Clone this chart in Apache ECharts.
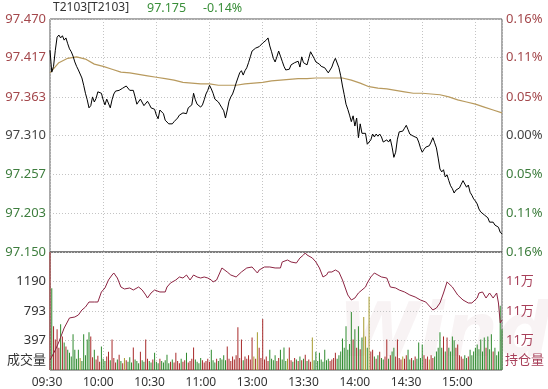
<!DOCTYPE html>
<html><head><meta charset="utf-8">
<script src="https://cdn.jsdelivr.net/npm/echarts@6/dist/echarts.min.js"></script>
<style>html,body{margin:0;padding:0;background:#fff}#c{width:548px;height:389px}</style>
</head><body><div id="c"></div>
<script>
const contractName = 'T2103[T2103]';
const preSettle = 97.310;
const timeLabels = ['09:30','10:00','10:30','11:00','13:00','13:30','14:00','14:30','15:00'];
const priceTicks = [97.150, 97.203, 97.257, 97.310, 97.363, 97.417, 97.470];
const priceTickLabels = ['97.150','97.203','97.257','97.310','97.363','97.417','97.470'];
const pctTickLabels = ['0.16%','0.11%','0.05%','0.00%','0.05%','0.11%','0.16%'];
const volTicks = [397, 793, 1190];
const volTickLabels = ['397','793','1190'];
const oiTicks = [109400, 110000, 110600];
const oiTickLabels = ['11万','11万','11万'];

const price = [
97.427,97.397,97.405,97.427,97.445,97.448,97.444,97.447,97.441,97.444,
97.436,97.429,97.425,97.419,97.411,97.405,97.400,97.400,97.389,97.379,
97.368,97.359,97.348,97.351,97.363,97.356,97.361,97.370,97.372,97.368,
97.359,97.352,97.360,97.361,97.348,97.359,97.367,97.371,97.370,97.372,
97.371,97.375,97.375,97.378,97.377,97.372,97.370,97.372,97.363,97.353,
97.351,97.360,97.359,97.351,97.352,97.357,97.353,97.348,97.349,97.346,
97.338,97.333,97.345,97.344,97.340,97.331,97.330,97.326,97.327,97.326,
97.329,97.331,97.334,97.338,97.337,97.341,97.342,97.340,97.348,97.349,
97.352,97.368,97.359,97.353,97.351,97.349,97.352,97.359,97.367,97.372,
97.379,97.374,97.368,97.360,97.361,97.356,97.352,97.348,97.344,97.334,
97.345,97.357,97.363,97.367,97.374,97.382,97.389,97.396,97.399,97.393,
97.399,97.403,97.410,97.418,97.426,97.426,97.430,97.430,97.432,97.433,
97.437,97.438,97.441,97.444,97.433,97.425,97.416,97.411,97.418,97.426,
97.419,97.412,97.405,97.400,97.400,97.401,97.407,97.405,97.410,97.408,
97.412,97.404,97.418,97.410,97.411,97.407,97.416,97.425,97.425,97.416,
97.411,97.410,97.408,97.405,97.404,97.403,97.401,97.396,97.400,97.404,
97.411,97.416,97.414,97.403,97.392,97.378,97.366,97.353,97.346,97.338,
97.329,97.337,97.323,97.334,97.307,97.326,97.313,97.313,97.313,97.298,
97.298,97.304,97.312,97.308,97.312,97.309,97.312,97.308,97.301,97.302,
97.304,97.301,97.305,97.294,97.280,97.287,97.305,97.315,97.316,97.316,
97.320,97.324,97.318,97.312,97.313,97.309,97.311,97.307,97.301,97.293,
97.287,97.291,97.294,97.296,97.296,97.301,97.307,97.300,97.293,97.279,
97.264,97.260,97.263,97.253,97.256,97.248,97.241,97.237,97.231,97.235,
97.237,97.238,97.243,97.248,97.246,97.239,97.242,97.232,97.228,97.223,
97.220,97.216,97.209,97.205,97.204,97.201,97.202,97.197,97.191,97.190,
97.191,97.187,97.186,97.184,97.177,97.175];

const avgMinutes = [0,5,10,15,20,25,30,35,40,45,50,55,60,65,70,75,80,85,90,95,100,105,110,115,120,125,130,135,140,145,150,155,160,165,170,175,180,185,190,195,200,205,210,215,220,225,230,235,240,245,250,255];
const avgPrice = [97.396,97.410,97.416,97.418,97.415,97.408,97.405,97.401,97.397,97.396,97.394,97.392,97.390,97.388,97.386,97.383,97.382,97.381,97.381,97.379,97.379,97.379,97.381,97.382,97.383,97.385,97.386,97.387,97.388,97.388,97.389,97.389,97.389,97.389,97.386,97.382,97.377,97.375,97.374,97.372,97.370,97.368,97.368,97.367,97.366,97.363,97.359,97.356,97.353,97.349,97.345,97.341];

const volume = [
1700,1100,589,411,548,300,616,452,370,315,
274,233,180,480,274,150,274,160,120,480,
200,411,507,452,170,274,140,190,110,315,
150,120,180,247,130,411,160,100,140,205,
120,90,160,130,110,170,100,301,140,120,
90,247,130,110,411,150,120,100,140,233,
110,90,150,120,100,130,205,90,110,140,
100,233,120,90,150,110,130,233,100,120,
150,301,140,110,90,160,130,100,120,150,
110,274,130,100,150,120,160,140,200,130,
315,150,120,180,140,200,575,160,411,130,
180,150,200,140,438,180,150,507,300,160,
685,140,180,120,274,150,130,200,120,160,
274,140,301,120,150,301,130,110,160,140,
120,180,130,150,205,120,140,110,438,130,
247,120,233,140,110,274,130,150,120,140,
160,233,150,200,250,425,300,589,274,350,
781,411,548,300,589,280,438,712,450,300,
986,250,274,180,150,200,247,160,140,180,
411,150,200,250,300,180,411,160,140,180,
150,200,274,140,160,130,180,150,370,160,
342,200,150,180,140,200,160,180,250,300,
507,300,452,250,438,300,250,452,400,300,
342,200,180,150,200,160,180,274,200,250,
300,342,280,411,250,438,300,452,280,480,
250,300,200,250,863,548];

const oiMinutes = [0,3,5,8,11,14,16,18,20,22,25,27,29,31,33,35,36,38,40,42,45,47,50,52,54,55,57,59,62,65,66,68,71,73,75,77,79,81,83,85,87,89,91,92,94,97,100,102,105,108,111,114,117,118,121,124,127,130,131,134,136,139,141,143,144,145,148,150,152,154,156,157,159,161,163,165,167,168,170,172,174,176,178,179,181,183,185,187,190,192,195,197,200,203,206,209,212,215,216,218,220,222,224,225,227,230,233,236,238,241,242,244,246,248,250,252,253,254,255];
const oiValues = [109003,109207,109370,109654,109858,109878,109919,110020,110081,110183,110183,110183,110387,110468,110631,110732,110773,110671,110488,110448,110468,110427,110488,110427,110326,110264,110366,110427,110387,110387,110488,110570,110631,110692,110671,110732,110631,110732,110692,110671,110692,110671,110631,110590,110631,110875,110793,110732,110692,110793,110875,110895,110773,110834,110895,110895,110875,110875,110997,111037,110997,110976,111078,111139,111180,111139,111078,110997,110875,110692,110732,110793,110793,110834,110793,110631,110427,110326,110224,110264,110366,110427,110488,110570,110692,110773,110732,110692,110671,110488,110468,110427,110387,110326,110285,110224,110183,110061,110020,110061,110163,110366,110590,110570,110488,110326,110224,110163,110163,110264,110366,110387,110264,110366,110264,110366,110163,109756,109817];

const RED = '#a4484c', GREEN = '#3d7d3d', GREY = '#444';
const FONT = '"Noto Sans", "Noto Sans CJK SC", sans-serif';
function tickIndex(v, ticks){let b=0,d=1e9;ticks.forEach((t,i)=>{const e=Math.abs(t-v);if(e<d){d=e;b=i;}});return b;}
function priceColor(v){return v>preSettle+1e-4?RED:(v<preSettle-1e-4?GREEN:GREY);}

const last = price[price.length-1];
const pct = (last-preSettle)/preSettle*100;

const dotted = {show:true, lineStyle:{color:'#c4c4c4', type:[1,2], width:1}};
const xCommon = {type:'value', min:0, max:255, interval:30, axisLabel:{show:false}, axisTick:{show:false}, axisLine:{show:false}, splitLine:dotted};

const volColors = volume.map((v,i)=>{
  if(i===0) return '#a02828';
  const d = price[i]-price[i-1];
  return d>0?'#a82a2a':(d<0?'#2e8a2e':'#a89c30');
});

const chart = echarts.init(document.getElementById('c'), null, {renderer:'canvas'});
chart.setOption({
  animation:false,
  backgroundColor:'#fff',
  grid:[
    {left:50, right:46, top:19, height:233, show:true, borderColor:'#555', borderWidth:1},
    {left:50, right:46, top:252, height:118, show:true, borderColor:'#555', borderWidth:1},
    {left:21.35, width:461.7, top:370, height:1}
  ],
  xAxis:[
    Object.assign({gridIndex:0}, xCommon),
    Object.assign({gridIndex:1}, xCommon),
    {gridIndex:2, type:'category', data:timeLabels, boundaryGap:true, axisLine:{show:false}, axisTick:{show:false}, splitLine:{show:false},
     axisLabel:{color:'#333', fontSize:12, fontFamily:FONT, margin:6, interval:0}}
  ],
  yAxis:[
    {gridIndex:0, type:'value', min:97.150, max:97.470, position:'left',
     axisLine:{show:false}, axisTick:{show:false, customValues:priceTicks}, splitLine:dotted,
     axisLabel:{customValues:priceTicks, margin:4, fontSize:13, fontFamily:FONT,
       formatter:v=>priceTickLabels[tickIndex(v,priceTicks)], color:v=>priceColor(v)}},
    {gridIndex:0, type:'value', min:97.150, max:97.470, position:'right',
     axisLine:{show:false}, axisTick:{show:false, customValues:priceTicks}, splitLine:{show:false},
     axisLabel:{customValues:priceTicks, margin:4, fontSize:13, fontFamily:FONT,
       formatter:v=>pctTickLabels[tickIndex(v,priceTicks)], color:v=>priceColor(v)}},
    {gridIndex:1, type:'value', min:0, max:1587, position:'left',
     axisLine:{show:false}, axisTick:{show:false, customValues:volTicks}, splitLine:dotted,
     axisLabel:{customValues:volTicks, margin:4, fontSize:13, fontFamily:FONT, color:'#333',
       formatter:v=>volTickLabels[tickIndex(v,volTicks)]}},
    {gridIndex:1, type:'value', min:108800, max:111200, position:'right',
     axisLine:{show:false}, axisTick:{show:false, customValues:oiTicks}, splitLine:{show:false},
     axisLabel:{customValues:oiTicks, margin:4, fontSize:13, fontFamily:FONT, color:'#a8405a',
       formatter:v=>oiTickLabels[tickIndex(v,oiTicks)]}},
    {gridIndex:2, type:'value', show:false}
  ],
  graphic:[
    {type:'text', left:338, top:300, silent:true, z:-10,
     style:{text:'Wind', fontSize:74, fontWeight:'bold', fontStyle:'italic', fontFamily:'"DejaVu Sans", sans-serif', fill:'rgba(200,160,165,0.12)'}},
    {type:'text', left:53, top:2, style:{text:contractName, fontSize:12, fontFamily:FONT, fill:'#333'}},
    {type:'text', left:147, top:2, style:{text:last.toFixed(3), fontSize:12.5, fontFamily:FONT, fill:'#3a8f3a'}},
    {type:'text', left:203, top:2, style:{text:pct.toFixed(2)+'%', fontSize:12.5, fontFamily:FONT, fill:'#3a8f3a'}},
    {type:'text', right:548-46, top:354, style:{text:'成交量', fontSize:13, fontFamily:FONT, fill:'#333', align:'right'}},
    {type:'text', left:505, top:354, style:{text:'持仓量', fontSize:13, fontFamily:FONT, fill:'#a8405a'}}
  ],
  series:[
    {type:'bar', xAxisIndex:1, yAxisIndex:2, barWidth:1, clip:true, z:2,
     data:volume.map((v,i)=>({value:[i,v], itemStyle:{color:volColors[i]}}))},
    {type:'line', xAxisIndex:1, yAxisIndex:3, symbol:'none', z:3,
     lineStyle:{color:'#8c2442', width:1}, data:oiMinutes.map((t,i)=>[t,oiValues[i]])},
    {type:'line', xAxisIndex:0, yAxisIndex:0, symbol:'none', z:3,
     lineStyle:{color:'#b89a5e', width:1.2}, data:avgMinutes.map((t,i)=>[t,avgPrice[i]])},
    {type:'line', xAxisIndex:0, yAxisIndex:0, symbol:'none', z:4,
     lineStyle:{color:'#000', width:1}, data:price.map((p,i)=>[i,p])}
  ]
});
</script></body></html>
